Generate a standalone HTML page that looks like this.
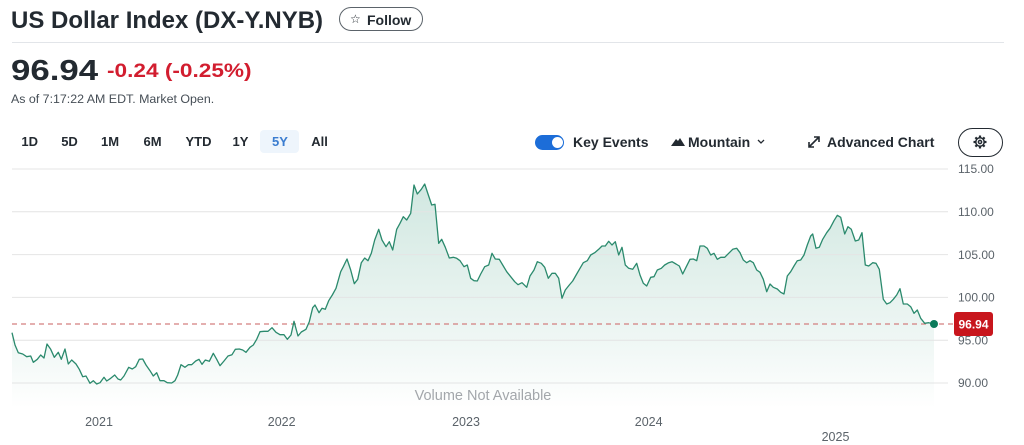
<!DOCTYPE html>
<html><head><meta charset="utf-8">
<style>
html,body{margin:0;padding:0;background:#fff;}
body{width:1024px;height:445px;position:relative;overflow:hidden;font-family:"Liberation Sans",Arial,sans-serif;color:#232a31;}
.a{position:absolute;line-height:1;white-space:nowrap;}
.tr{font-size:13px;font-weight:bold;color:#232a31;top:134.6px;transform:translateX(-50%);}
.rc{font-size:14px;font-weight:bold;color:#232a31;top:135.2px;}
</style></head><body>
<div class="a" style="left:11px;top:9px;font-size:24px;font-weight:bold;color:#232a31;">US Dollar Index (DX-Y.NYB)</div>
<div class="a" style="left:339px;top:7px;width:82px;height:22px;border:1px solid #5b636a;border-radius:13px;"></div>
<div class="a" style="left:350px;top:13px;font-size:12px;color:#232a31;font-family:'DejaVu Sans',sans-serif;">☆</div>
<div class="a" style="left:367px;top:12.5px;font-size:14px;font-weight:bold;color:#232a31;">Follow</div>
<div class="a" style="left:12px;top:42px;width:992px;height:1px;background:#e2e5e9;"></div>

<div class="a" style="left:11px;top:57px;font-size:29px;font-weight:bold;color:#232a31;transform:scaleX(1.2);transform-origin:0 0;">96.94</div>
<div class="a" style="left:107px;top:62px;font-size:19.5px;font-weight:bold;color:#d21d2f;transform:scaleX(1.16);transform-origin:0 0;">-0.24 (-0.25%)</div>
<div class="a" style="left:11px;top:93.4px;font-size:12.4px;color:#464e56;">As of 7:17:22 AM EDT. Market Open.</div>

<div class="a" style="left:260px;top:130px;width:39px;height:23px;background:#eef5fc;border-radius:4px;"></div>
<div class="a tr" style="left:29.7px;">1D</div>
<div class="a tr" style="left:69.5px;">5D</div>
<div class="a tr" style="left:110px;">1M</div>
<div class="a tr" style="left:152.5px;">6M</div>
<div class="a tr" style="left:198.5px;">YTD</div>
<div class="a tr" style="left:240.5px;">1Y</div>
<div class="a tr" style="left:280px;color:#3b7dd0;">5Y</div>
<div class="a tr" style="left:319.5px;">All</div>

<div class="a" style="left:535px;top:135px;width:29px;height:15px;border-radius:8px;background:#1c6dd8;"></div>
<div class="a" style="left:551.5px;top:137px;width:11px;height:11px;border-radius:50%;background:#fff;"></div>
<div class="a rc" style="left:573px;">Key Events</div>
<svg class="a" style="left:671px;top:136px;" width="14" height="12"><polygon points="0,10 5,3 7,5 9,2 14,10" fill="#232a31"/></svg>
<div class="a rc" style="left:688px;">Mountain</div>
<svg class="a" style="left:757px;top:139px;" width="8" height="6"><polyline points="1,1 4,4 7,1" fill="none" stroke="#232a31" stroke-width="1.3"/></svg>
<svg class="a" style="left:807px;top:135px;" width="14" height="14"><path d="M2,12 L12,2 M7,2 L12,2 L12,7 M2,7 L2,12 L7,12" fill="none" stroke="#232a31" stroke-width="1.6"/></svg>
<div class="a rc" style="left:827px;">Advanced Chart</div>
<div class="a" style="left:958px;top:127.5px;width:43px;height:27px;border:1.5px solid #232a31;border-radius:15px;"></div>
<svg class="a" style="left:973px;top:135px;" width="14" height="14" viewBox="0 0 14 14">
<g fill="none" stroke="#232a31" stroke-width="1.5">
<circle cx="7" cy="7" r="4.2"/>
<circle cx="7" cy="7" r="1.6"/>
</g>
<g stroke="#232a31" stroke-width="2.2" stroke-linecap="butt">
<line x1="7" y1="0.5" x2="7" y2="2.8"/><line x1="7" y1="11.2" x2="7" y2="13.5"/>
<line x1="0.5" y1="7" x2="2.8" y2="7"/><line x1="11.2" y1="7" x2="13.5" y2="7"/>
<line x1="2.4" y1="2.4" x2="4" y2="4"/><line x1="10" y1="10" x2="11.6" y2="11.6"/>
<line x1="2.4" y1="11.6" x2="4" y2="10"/><line x1="10" y1="4" x2="11.6" y2="2.4"/>
</g>
</svg>

<svg class="a" style="left:0;top:0;" width="1024" height="445" viewBox="0 0 1024 445">
<defs>
<linearGradient id="g" gradientUnits="userSpaceOnUse" x1="0" y1="184" x2="0" y2="408">
<stop offset="0" stop-color="#1a8a68" stop-opacity="0.2"/>
<stop offset="0.7" stop-color="#1a8a68" stop-opacity="0.07"/>
<stop offset="1" stop-color="#1a8a68" stop-opacity="0.0"/>
</linearGradient>
</defs>
<path fill="url(#g)" stroke="none" d="M12,332.7 L15,345 18.3,352.7 22.7,354 26.7,356.7 30.7,356 33.3,362.3 37.3,359.3 40.7,355 44,358 47,344 50.7,349.3 54.3,357.3 58.3,352.3 61.3,359.3 65,349 68.3,364 71.7,360 76,364 79.3,369.3 82.7,376.7 86,376 90,383.3 93.3,380.7 96.7,384 100,382.7 104,377.3 106.7,381 110.7,378.3 114.7,375 118,379 120.7,380 124,376 128.7,367.3 132.3,369 135.7,366.7 139.3,359.3 142.7,359 146,365 150,370.7 153.3,376 156.7,372.7 160,380.7 164,380.7 167.3,382.7 171.7,383 175,380.7 177.7,375 181,364.7 185,367.3 188.3,364.7 191.7,364.7 195.7,361 199,359.3 202,364.3 205.3,360 209.3,361.3 213.3,353.3 216.7,359.3 220,365.7 224,361 228,356 232,354.7 235.3,349.3 239.3,349 242.7,350 246,352.3 250,347.3 253.3,345 256.7,339.3 260,331.7 264,331.3 268,331.3 272,327.7 276,332.3 280,334.7 284,334.7 287.3,339.3 291,335 294,321.3 298,336 301.3,332 306,329.3 309.3,321.7 312.7,307.7 315,305 319,312.7 322,308.3 325.3,309.3 328.7,300.7 332.3,295 336,288.3 340.7,271.7 343.3,266.7 347,259 350.7,270 354.3,283.7 357.7,279.3 361.3,262.7 364.7,258 368,260.7 371.3,253.3 374.7,240 378.7,229.3 382,240 386,246.7 389.3,241.7 392.7,250 396.7,229.3 400,223.3 403.3,216.7 406.7,220 410.7,213.3 414,185 417.3,194 421.3,189.3 424.7,184 428,194 431.7,205 435,204.3 438.7,243.3 441.7,239.3 445.3,247.3 449.3,258 453.3,257.3 456.7,258.3 460,260.7 464,266.7 467.3,265 470.7,278.3 474,280.7 477.3,281 480.7,274 484.7,266.7 488.7,265 492,253.3 495.3,259 499.3,259.3 502.7,265 506.7,271.7 510.7,276.7 514.7,281.7 518,284.7 522,282.7 526.7,287.3 530,276 534,270 537.3,261.7 541.3,263.3 544.7,267.3 548.3,278.3 552,273.3 555.3,273.3 558.7,278.3 562,298.3 565.3,290 569.3,285 572.7,281 576.7,274 580,268.3 583.3,262.7 587.3,260.7 590.7,255 594.7,252.7 598.7,249.3 602,246 605.3,246 608.7,241.3 612,245 615.3,241.7 618.7,255 622,247.3 625.3,265 628.7,268.3 632.7,269.3 636.7,263.3 640,275 643.3,283.3 646.7,286 650.7,277.3 654,276.7 657.3,270 661.3,268.3 664.7,265 668.7,262.7 672,261.7 676,264 679.3,266 682.7,274 686,267.3 690,259.3 693.3,259 696.7,260.7 700,246 704,246 707.3,248.3 710.7,255 714,253.3 717.3,259.3 720.7,257.3 724.7,257.3 728.7,253.3 732.7,249.3 736.7,248.3 740,252.7 743.3,260 746.7,262.7 750,260.7 753.3,262.7 756.7,270 760,272.3 763.3,279.3 766.7,291.7 770,284 773.3,287.3 777.3,289 780.7,292.3 784,294 787.3,276 790.7,271.7 794,266 797.3,260.7 800.7,260 804,255 807.3,245 810.7,236 812.7,234 816,248.3 819.3,247.3 822.7,239.3 826.7,232.7 830,228.3 834,220.7 837.3,215.3 840.7,217.3 844.7,234 848,226.7 851.3,229.3 855.3,241 858.7,240 862,232.7 865.3,265 868.7,266 872.7,262.7 876,263.3 879.3,269.3 883.3,299.3 886.7,304 890,302.7 893.3,299.3 896.7,295 900,288.7 903.3,304 907.3,304 910.7,306.7 914,313.3 917.3,310 920.7,318.3 924.7,323.3 928.7,322.7 934,324 L934,408 L12,408 Z"/>
<g stroke="#e4e4e4" stroke-width="1">
<line x1="12" y1="169" x2="948" y2="169"/>
<line x1="12" y1="211.8" x2="948" y2="211.8"/>
<line x1="12" y1="254.6" x2="948" y2="254.6"/>
<line x1="12" y1="297.4" x2="948" y2="297.4"/>
<line x1="12" y1="340.2" x2="948" y2="340.2"/>
<line x1="12" y1="383" x2="948" y2="383"/>
</g>
<line x1="12" y1="324" x2="954" y2="324" stroke="#d37f7f" stroke-width="1.2" stroke-dasharray="5,4"/>
<polyline fill="none" stroke="#2b8a6d" stroke-width="1.3" stroke-linejoin="round" points="12,332.7 15,345 18.3,352.7 22.7,354 26.7,356.7 30.7,356 33.3,362.3 37.3,359.3 40.7,355 44,358 47,344 50.7,349.3 54.3,357.3 58.3,352.3 61.3,359.3 65,349 68.3,364 71.7,360 76,364 79.3,369.3 82.7,376.7 86,376 90,383.3 93.3,380.7 96.7,384 100,382.7 104,377.3 106.7,381 110.7,378.3 114.7,375 118,379 120.7,380 124,376 128.7,367.3 132.3,369 135.7,366.7 139.3,359.3 142.7,359 146,365 150,370.7 153.3,376 156.7,372.7 160,380.7 164,380.7 167.3,382.7 171.7,383 175,380.7 177.7,375 181,364.7 185,367.3 188.3,364.7 191.7,364.7 195.7,361 199,359.3 202,364.3 205.3,360 209.3,361.3 213.3,353.3 216.7,359.3 220,365.7 224,361 228,356 232,354.7 235.3,349.3 239.3,349 242.7,350 246,352.3 250,347.3 253.3,345 256.7,339.3 260,331.7 264,331.3 268,331.3 272,327.7 276,332.3 280,334.7 284,334.7 287.3,339.3 291,335 294,321.3 298,336 301.3,332 306,329.3 309.3,321.7 312.7,307.7 315,305 319,312.7 322,308.3 325.3,309.3 328.7,300.7 332.3,295 336,288.3 340.7,271.7 343.3,266.7 347,259 350.7,270 354.3,283.7 357.7,279.3 361.3,262.7 364.7,258 368,260.7 371.3,253.3 374.7,240 378.7,229.3 382,240 386,246.7 389.3,241.7 392.7,250 396.7,229.3 400,223.3 403.3,216.7 406.7,220 410.7,213.3 414,185 417.3,194 421.3,189.3 424.7,184 428,194 431.7,205 435,204.3 438.7,243.3 441.7,239.3 445.3,247.3 449.3,258 453.3,257.3 456.7,258.3 460,260.7 464,266.7 467.3,265 470.7,278.3 474,280.7 477.3,281 480.7,274 484.7,266.7 488.7,265 492,253.3 495.3,259 499.3,259.3 502.7,265 506.7,271.7 510.7,276.7 514.7,281.7 518,284.7 522,282.7 526.7,287.3 530,276 534,270 537.3,261.7 541.3,263.3 544.7,267.3 548.3,278.3 552,273.3 555.3,273.3 558.7,278.3 562,298.3 565.3,290 569.3,285 572.7,281 576.7,274 580,268.3 583.3,262.7 587.3,260.7 590.7,255 594.7,252.7 598.7,249.3 602,246 605.3,246 608.7,241.3 612,245 615.3,241.7 618.7,255 622,247.3 625.3,265 628.7,268.3 632.7,269.3 636.7,263.3 640,275 643.3,283.3 646.7,286 650.7,277.3 654,276.7 657.3,270 661.3,268.3 664.7,265 668.7,262.7 672,261.7 676,264 679.3,266 682.7,274 686,267.3 690,259.3 693.3,259 696.7,260.7 700,246 704,246 707.3,248.3 710.7,255 714,253.3 717.3,259.3 720.7,257.3 724.7,257.3 728.7,253.3 732.7,249.3 736.7,248.3 740,252.7 743.3,260 746.7,262.7 750,260.7 753.3,262.7 756.7,270 760,272.3 763.3,279.3 766.7,291.7 770,284 773.3,287.3 777.3,289 780.7,292.3 784,294 787.3,276 790.7,271.7 794,266 797.3,260.7 800.7,260 804,255 807.3,245 810.7,236 812.7,234 816,248.3 819.3,247.3 822.7,239.3 826.7,232.7 830,228.3 834,220.7 837.3,215.3 840.7,217.3 844.7,234 848,226.7 851.3,229.3 855.3,241 858.7,240 862,232.7 865.3,265 868.7,266 872.7,262.7 876,263.3 879.3,269.3 883.3,299.3 886.7,304 890,302.7 893.3,299.3 896.7,295 900,288.7 903.3,304 907.3,304 910.7,306.7 914,313.3 917.3,310 920.7,318.3 924.7,323.3 928.7,322.7 934,324"/>
<circle cx="934" cy="324" r="4" fill="#0b7a5a"/>
<g font-family="Liberation Sans, Arial, sans-serif" font-size="12" fill="#5b636a">
<text x="958" y="173.2">115.00</text>
<text x="958" y="216">110.00</text>
<text x="958" y="258.8">105.00</text>
<text x="958" y="301.6">100.00</text>
<text x="958" y="344.4">95.00</text>
<text x="958" y="387.2">90.00</text>
</g>
<rect x="954" y="312" width="39" height="24" rx="3" fill="#c8161d"/>
<text x="973.5" y="328.3" text-anchor="middle" font-family="Liberation Sans, Arial, sans-serif" font-size="12" font-weight="bold" fill="#fff">96.94</text>
<text x="483" y="400.2" text-anchor="middle" font-family="Liberation Sans, Arial, sans-serif" font-size="14.5" fill="#a3a7ab">Volume Not Available</text>
<g font-family="Liberation Sans, Arial, sans-serif" font-size="12.5" fill="#5b636a" text-anchor="middle">
<text x="99" y="426.2">2021</text>
<text x="281.7" y="426.2">2022</text>
<text x="466" y="426.2">2023</text>
<text x="648.7" y="426.2">2024</text>
<text x="835.5" y="441.2">2025</text>
</g>
</svg>
</body></html>
